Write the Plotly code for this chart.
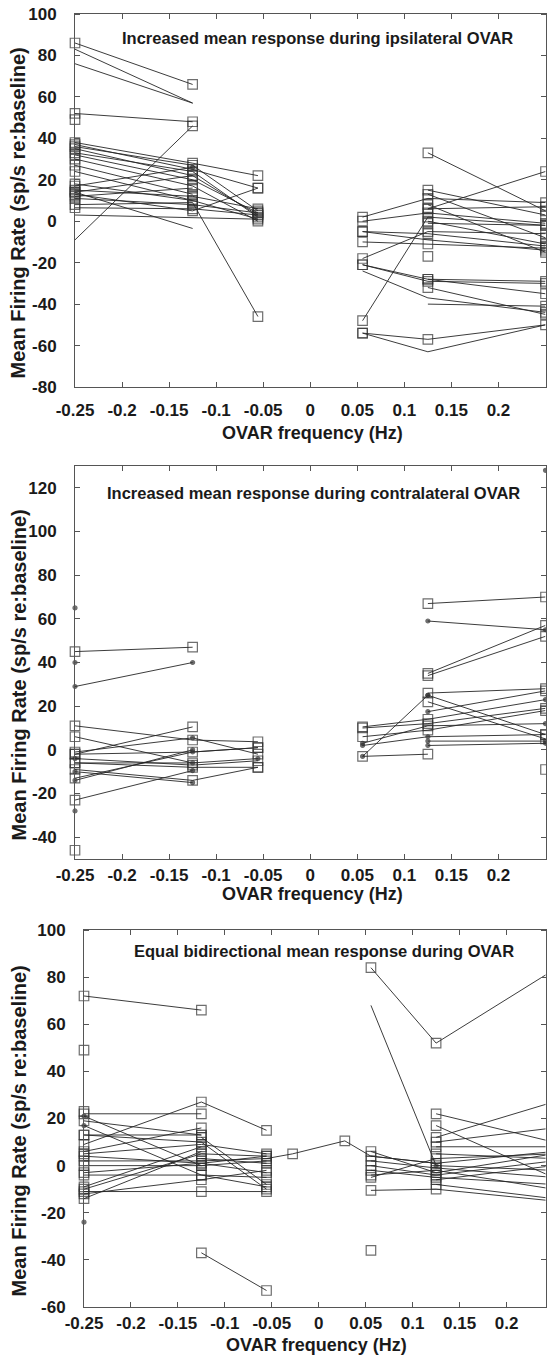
import plotly.graph_objects as go

W, H = 547, 1355

# ---------------- data ----------------
FREQ_NEG = [-0.25, -0.125, -0.0556]
FREQ_POS = [0.0556, 0.125, 0.25]
FREQ_MID = [-0.0556, -0.0278, 0.0278, 0.0556, 0.125]

X_TICKS = [-0.25, -0.2, -0.15, -0.1, -0.05, 0, 0.05, 0.1, 0.15, 0.2]
X_TICK_TEXT = ["-0.25", "-0.2", "-0.15", "-0.1", "-0.05", "0", "0.05", "0.1", "0.15", "0.2"]
Y1_TICKS = [-80, -60, -40, -20, 0, 20, 40, 60, 80, 100]
Y2_TICKS = [-40, -20, 0, 20, 40, 60, 80, 100, 120]
Y3_TICKS = [-60, -40, -20, 0, 20, 40, 60, 80, 100]

TITLES = ["Increased mean response during ipsilateral OVAR",
          "Increased mean response during contralateral OVAR",
          "Equal bidirectional mean response during OVAR"]
X_TITLE = "OVAR frequency (Hz)"
Y_TITLE = "Mean Firing Rate (sp/s re:baseline)"

# marker codes per point: s = open square, d = dot, n = no marker, . = absent
ipsi_neg_y = [
    [86, 66, None], [83, 57, None], [76, 57, None], [52, 48, None], [49, None, None],
    [38, 28, 22], [37, 25, 16], [36, 27, 5], [35, 22, 3], [33, 24, 2], [32, 20, 4],
    [30, 17, 0], [27, 13, None], [24, 10, 1], [18, 10, None], [17, 26, None],
    [14, 22, None], [14, -3.5, None], [12, 16, None], [11, 8, 4], [8, 9, -46],
    [6.5, 6, 3], [3, 1.5, 1], [-9, 46, None], [13, 5, 16], [15, 12, 6],
]
ipsi_neg_m = [
    "ss.", "nn.", "nn.", "ss.", "s..",
    "sss", "sss", "sss", "sss", "sss", "sss",
    "sss", "ss.", "sss", "ss.", "sd.",
    "ss.", "sn.", "ss.", "sss", "sss",
    "sss", "nnn", "ns.", "sss", "sss",
]
ipsi_pos_y = [
    [2, 11, 9], [0, 4, -1], [-5, -6, -12], [-5, -9, -14], [-10, -11, -13],
    [-18, -5, -6], [-21, -28, -29], [-21, -29, -30], [-24, -37, -44], [-48, 2, -2],
    [-54, -57, -50], [-54, -63, -50], [None, -40, -41], [None, 33, 5], [None, 15, 3],
    [None, 13, -8], [None, 8, -15], [None, 6, 7], [None, -17, None], [None, -32, -45],
    [None, -28, -35], [None, 6, 24], [None, 0, -11], [None, -1, -2],
]
ipsi_pos_m = [
    "sss", "sss", "sss", "sns", "sss",
    "sss", "sss", "sss", "nns", "sss",
    "sss", "snn", ".ns", ".ss", ".ss",
    ".ss", ".ss", ".ss", ".s.", ".ss",
    ".ss", ".ss", ".ss", ".ss",
]

contra_neg_y = [
    [45, 47, None], [29, 40, None], [65, None, None], [40, None, None],
    [11, 4.5, 3.7], [6, -6, None], [-2, 10.5, None], [-2, -1, 1], [-6, -6, -4],
    [-6, -8, -8], [-9, -14, -8], [-13, -1, 1], [-14, 0, None], [-23, -9.5, None],
    [-4, -7, -5], [-10, -15, None], [-28, None, None], [-46, None, None], [-1, 5.5, -2],
]
contra_neg_m = [
    "ss.", "dd.", "d..", "d..",
    "sss", "ss.", "ss.", "sss", "sdd",
    "sss", "sss", "sds", "dd.", "sd.",
    "dss", "dd.", "d..", "s..", "sds",
]
contra_pos_y = [
    [None, 67, 70], [None, 59, 55], [None, 35, 57], [None, 34, 52],
    [-3, 25, None], [-3, -2, None], [None, 26, 28], [None, 25, 7], [None, 22, 5],
    [None, 17.5, 27], [10.5, 14, 23], [10, 12, 19], [6, 9, 18], [3, 11, 12],
    [2, 6, 7], [None, 4, 4], [None, 2, 3], [None, None, -9], [None, None, 128],
]
contra_pos_m = [
    ".ss", ".dd", ".ss", ".ss",
    "sd.", "ds.", ".ss", ".ds", ".ss",
    ".ds", "ssd", "sss", "sss", "dsd",
    "dds", ".dd", ".dd", "..s", "..d",
]

equal_neg_y = [
    [72, 66, None], [49, None, None], [22, 22, None], [9, 27, 15], [21, 0, None],
    [19, 13, None], [17, -4, -9], [13, 13, None], [13, 10, -10], [6, 16, None],
    [5, 9, 5], [4, 1, 4], [2, 2, 3], [0, 0, 2], [-3, 1, -3], [-4, -4, -5],
    [-9, 8, None], [-10, 5, 4], [-11, -11, -11], [-12, -6, -2], [-14, 6, None],
    [None, -37, -53], [-24, None, None], [None, 12, -8], [None, 3, 1], [23, None, None],
]
equal_neg_m = [
    "ss.", "s..", "ss.", "sss", "ds.",
    "ss.", "dss", "ss.", "sss", "ss.",
    "sss", "sss", "sss", "sss", "sss", "sss",
    "ss.", "sss", "sss", "sss", "ss.",
    ".ss", "d..", ".ss", ".ss", "s..",
]
equal_mid_y = [[3, 5, 10.5, 4, 1]]
equal_mid_m = ["nssnn"]
equal_pos_y = [
    [84, 52, 83], [68, 0, None], [None, 22, 10], [None, 17, -5], [None, 12, 27],
    [None, 10, 16], [None, 8, 8], [6, -3, 5], [4, 1, 6], [2, -1, -5], [0, -4, 2],
    [-2, -5, -8], [-4, -2, -10], [-5, 3, 5], [-10.5, -10, -15], [-36, None, None],
    [None, -8, -14], [None, -6, 0], [None, 5, 3], [None, 0, -2],
]
equal_pos_m = [
    "ssn", "nd.", ".sn", ".sn", ".sn",
    ".sn", ".sn", "ssn", "ssn", "ssn", "ssn",
    "ssn", "ssn", "ssn", "ssn", "s..",
    ".sn", ".sn", ".sn", ".sn",
]

# ---------------- layout geometry (pixels) ----------------
PANELS = [
    dict(l=75, r=545.5, t=14, b=387, xr=[-0.25, 0.25], yr=[-80, 100], yt=Y1_TICKS),
    dict(l=75, r=545.5, t=466, b=859, xr=[-0.25, 0.25], yr=[-50, 130], yt=Y2_TICKS),
    dict(l=84, r=545.5, t=930, b=1307, xr=[-0.25, 0.2415], yr=[-60, 100], yt=Y3_TICKS),
]
TITLE_DX = [7, 3, 9]
TITLE_DY = [24, 27, 21]
XTITLE_DY = [46, 35, 38]
XLABEL_STANDOFF = [8, 1, 1]

LINE_C = "#262626"
MARK_C = "#303030"
AXIS_C = "#555555"
FONT = "Liberation Sans, Arial, Helvetica, sans-serif"

fig = go.Figure()


def add_group(rows, marks, freqs, idx):
    xa = "x" if idx == 1 else f"x{idx}"
    ya = "y" if idx == 1 else f"y{idx}"
    for ys, ms in zip(rows, marks):
        xs, yv, sym, size = [], [], [], []
        for f, y, m in zip(freqs, ys, ms):
            if y is None or m == ".":
                continue
            xs.append(f)
            yv.append(y)
            if m == "s":
                sym.append("square-open"); size.append(9.5)
            elif m == "d":
                sym.append("circle"); size.append(4)
            else:
                sym.append("circle"); size.append(0)
        fig.add_trace(go.Scatter(
            x=xs, y=yv, mode="lines+markers", xaxis=xa, yaxis=ya,
            line=dict(color=LINE_C, width=0.9),
            marker=dict(symbol=sym, size=size, color=MARK_C,
                        line=dict(width=1.2, color=MARK_C)),
            cliponaxis=False, showlegend=False, hoverinfo="skip"))


add_group(ipsi_neg_y, ipsi_neg_m, FREQ_NEG, 1)
add_group(ipsi_pos_y, ipsi_pos_m, FREQ_POS, 1)
add_group(contra_neg_y, contra_neg_m, FREQ_NEG, 2)
add_group(contra_pos_y, contra_pos_m, FREQ_POS, 2)
add_group(equal_neg_y, equal_neg_m, FREQ_NEG, 3)
add_group(equal_mid_y, equal_mid_m, FREQ_MID, 3)
add_group(equal_pos_y, equal_pos_m, FREQ_POS, 3)

tick_font = dict(family=FONT, size=17, color="#1a1a1a", weight="bold")
axis_common = dict(
    showline=True, linecolor=AXIS_C, linewidth=1, mirror="ticks", automargin=False,
    showgrid=False, zeroline=False, fixedrange=True, tickfont=tick_font,
)

layout = dict(width=W, height=H, margin=dict(l=0, r=0, t=0, b=0, autoexpand=False),
              plot_bgcolor="white", paper_bgcolor="white", showlegend=False)
annotations = []
for i, p in enumerate(PANELS, start=1):
    xk = "xaxis" if i == 1 else f"xaxis{i}"
    yk = "yaxis" if i == 1 else f"yaxis{i}"
    ya = "y" if i == 1 else f"y{i}"
    xa = "x" if i == 1 else f"x{i}"
    layout[xk] = dict(axis_common, domain=[p["l"] / W, p["r"] / W], range=p["xr"],
                      anchor=ya, tickvals=X_TICKS, ticktext=X_TICK_TEXT,
                      ticks="inside", ticklen=5, tickwidth=1, tickcolor=AXIS_C,
                      ticklabelstandoff=XLABEL_STANDOFF[i - 1])
    # y: transparent outside major ticks push the labels out; inside minor ticks are drawn
    layout[yk] = dict(axis_common, domain=[1 - p["b"] / H, 1 - p["t"] / H], range=p["yr"],
                      anchor=xa, tickvals=p["yt"], ticktext=[str(v) for v in p["yt"]],
                      ticks="outside", ticklen=14, tickwidth=1,
                      tickcolor="rgba(0,0,0,0)",
                      minor=dict(ticks="inside", ticklen=5, tickwidth=1, tickcolor=AXIS_C,
                                 tickvals=p["yt"], showgrid=False))
    cx = (p["l"] + p["r"]) / 2
    annotations.append(dict(text=TITLES[i - 1], xref="paper", yref="paper",
                            x=(cx + TITLE_DX[i - 1]) / W, y=1 - (p["t"] + TITLE_DY[i - 1]) / H,
                            xanchor="center", yanchor="middle", showarrow=False,
                            font=dict(family=FONT, size=16.5, color="#1a1a1a", weight="bold")))
    annotations.append(dict(text=X_TITLE, xref="paper", yref="paper",
                            x=(cx + 2) / W, y=1 - (p["b"] + XTITLE_DY[i - 1]) / H,
                            xanchor="center", yanchor="middle", showarrow=False,
                            font=dict(family=FONT, size=18, color="#1a1a1a", weight="bold")))
    annotations.append(dict(text=Y_TITLE, xref="paper", yref="paper",
                            x=18 / W, y=1 - ((p["t"] + p["b"]) / 2 + 13) / H,
                            xanchor="center", yanchor="middle", showarrow=False,
                            textangle=-90,
                            font=dict(family=FONT, size=20, color="#1a1a1a", weight="bold")))
layout["annotations"] = annotations
fig.update_layout(**layout)

fig.write_html("out.html")
